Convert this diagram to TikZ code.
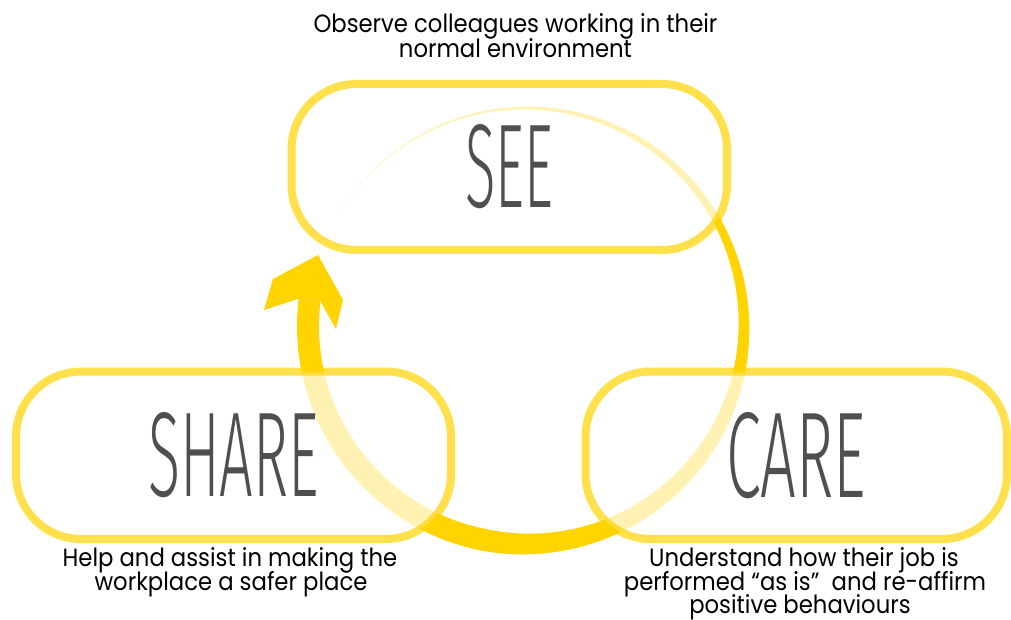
\documentclass[tikz,border=0pt]{standalone}
\usepackage{fontspec}
\usepackage{graphicx}
\newfontfamily\capfont[FakeStretch=0.91]{Poppins}
\IfFontExistsTF{Fira Sans Light}{\newfontfamily\bigfont{Fira Sans Light}}{\newfontfamily\bigfont{Fira Sans}}
\definecolor{arrowc}{HTML}{FFD400}
\definecolor{txtgray}{HTML}{4F4F4F}
\begin{document}
\begin{tikzpicture}[x=0.75pt,y=-0.75pt,
  declare function={wd(\a)=22*(max(0.0001,min(1,(148-\a)/248)))^1.4;},
  boxstyle/.style={draw=arrowc, draw opacity=0.7, fill=white, fill opacity=0.7,
    text opacity=1, text=txtgray, line width=6pt, rounded corners=48.75pt, inner sep=0pt},
  captext/.style={font=\capfont\fontsize{18.75}{18.75}\selectfont, text=black, inner sep=0pt,
    text height=13.5pt, text depth=4pt, anchor=base}]
\useasboundingbox (0,0) rectangle (1011,620);
% tapered circular arrow
\fill[arrowc] plot[domain=148:-186.85, samples=160] ({526+(218+wd(\x)/2)*cos(\x)}, {326-(218+wd(\x)/2)*sin(\x)})
  -- plot[domain=-186.85:148, samples=160] ({526+(218-wd(\x)/2)*cos(\x)}, {326-(218-wd(\x)/2)*sin(\x)}) -- cycle;
\coordinate (hi) at (320.5,301.3);
\coordinate (ho) at (298.6,298.7);
\coordinate (tip) at (318,255);
\fill[arrowc] (hi) -- (336,329) -- (343,300) -- (tip) -- (273,279) -- (264,310) -- (ho) -- cycle;
% boxes
\node[boxstyle, minimum width=326.6pt, minimum height=124.5pt] (see) at (509.25,167)
  {\resizebox{66pt}{62.25pt}{\bigfont SEE}};
\node[boxstyle, minimum width=326.25pt, minimum height=125.6pt] (share) at (233.5,455.25)
  {\resizebox{128pt}{63pt}{\bigfont SHARE}};
\node[boxstyle, minimum width=316.1pt, minimum height=125.6pt] (care) at (796.25,455.25)
  {\resizebox{105pt}{63.75pt}{\bigfont CARE}};
% captions
\node[captext] (t1) at (515.5,33) {Observe colleagues working in their};
\node[captext] (t2) at (515.5,57.5) {normal environment};
\node[captext] (s1) at (230,566) {Help and assist in making the};
\node[captext] (s2) at (231,590.5) {workplace a safer place};
\node[captext] (c1) at (804,566.5) {Understand how their job is};
\node[captext] (c2) at (805,590) {performed “as is”\ \ and re-affirm};
\node[captext] (c3) at (800,613) {positive behaviours};
\end{tikzpicture}
\end{document}
